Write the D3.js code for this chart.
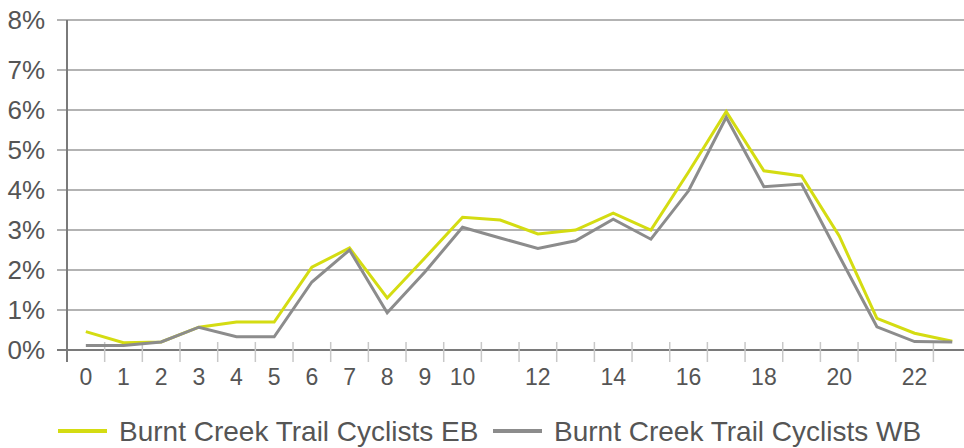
<!DOCTYPE html>
<html>
<head>
<meta charset="utf-8">
<script src="https://cdn.jsdelivr.net/npm/d3@7"></script>
<style>
  body { margin: 0; background: #fff; }
  text { font-family: "Liberation Sans", Arial, sans-serif; fill: #555; }
</style>
</head>
<body>
<div id="chart"></div>
<script>
// hour of day
var hours = d3.range(0, 24);
// share of daily cyclists per hour, in %
var eastbound = [0.46, 0.18, 0.2, 0.57, 0.7, 0.7, 2.07, 2.55, 1.3, 2.3, 3.32, 3.25,
                 2.9, 3.0, 3.42, 3.0, 4.45, 5.96, 4.48, 4.35, 2.85, 0.79, 0.42, 0.22];
var westbound = [0.11, 0.11, 0.2, 0.57, 0.33, 0.33, 1.7, 2.5, 0.93, 1.95, 3.07, 2.8,
                 2.54, 2.73, 3.27, 2.77, 3.98, 5.82, 4.08, 4.15, 2.35, 0.58, 0.21, 0.2];
var seriesNames = ["Burnt Creek Trail Cyclists EB", "Burnt Creek Trail Cyclists WB"];
var xTickLabels = [0, 1, 2, 3, 4, 5, 6, 7, 8, 9, 10, 12, 14, 16, 18, 20, 22];
var yTicks = [0, 1, 2, 3, 4, 5, 6, 7];
var yTop = 8.25, yTopLabel = "8%";

var w = 964, h = 448;
var colors = ["#d4dc12", "#8c8c8c"];

var svg = d3.select("#chart").append("svg")
    .attr("width", w)
    .attr("height", h);

var x = d3.scaleBand()
    .domain(hours)
    .range([67, 67 + 24 * 37.67]);

var y = d3.scaleLinear()
    .domain([0, yTop])
    .range([350, 20]);

// gridlines + y labels
var gridVals = yTicks.concat([yTop]);
svg.selectAll("line.grid")
    .data(gridVals)
    .enter().append("line")
    .attr("class", "grid")
    .attr("x1", 57).attr("x2", w)
    .attr("y1", function(d) { return y(d); })
    .attr("y2", function(d) { return y(d); })
    .attr("stroke", function(d) { return d == 0 ? "#7a7a7a" : "#9a9a9a"; })
    .attr("stroke-width", function(d) { return d == 0 ? 2 : 1.5; });

svg.selectAll("text.ylab")
    .data(gridVals)
    .enter().append("text")
    .attr("class", "ylab")
    .attr("x", 45)
    .attr("y", function(d) { return y(d); })
    .attr("dy", "0.36em")
    .attr("text-anchor", "end")
    .style("font-size", "26px")
    .text(function(d) { return d == yTop ? yTopLabel : d + "%"; });

// x ticks at band edges
svg.selectAll("line.xtick")
    .data(hours.slice(1))
    .enter().append("line")
    .attr("class", "xtick")
    .attr("x1", function(d) { return x(d); })
    .attr("x2", function(d) { return x(d); })
    .attr("y1", 342).attr("y2", 362)
    .attr("stroke", "#c8c8c8")
    .attr("stroke-width", 1.5);

// y axis line
svg.append("line")
    .attr("x1", 67).attr("x2", 67)
    .attr("y1", y(yTop)).attr("y2", 362)
    .attr("stroke", "#7a7a7a")
    .attr("stroke-width", 2);

svg.selectAll("text.xlab")
    .data(xTickLabels)
    .enter().append("text")
    .attr("class", "xlab")
    .attr("x", function(d) { return x(d) + x.bandwidth() / 2; })
    .attr("y", 385)
    .attr("text-anchor", "middle")
    .style("font-size", "23px")
    .text(function(d) { return d; });

// lines
var line = d3.line()
    .x(function(d, i) { return x(hours[i]) + x.bandwidth() / 2; })
    .y(function(d) { return y(d); });

[eastbound, westbound].forEach(function(s, i) {
    svg.append("path")
        .datum(s)
        .attr("d", line)
        .attr("fill", "none")
        .attr("stroke", colors[i])
        .attr("stroke-width", 3);
});

// legend
var legX = [58, 493];
seriesNames.forEach(function(name, i) {
    svg.append("line")
        .attr("x1", legX[i]).attr("x2", legX[i] + 49)
        .attr("y1", 431).attr("y2", 431)
        .attr("stroke", colors[i])
        .attr("stroke-width", 4);
    svg.append("text")
        .attr("x", legX[i] + 61)
        .attr("y", 441)
        .style("font-size", "28px")
        .text(name);
});
</script>
</body>
</html>
